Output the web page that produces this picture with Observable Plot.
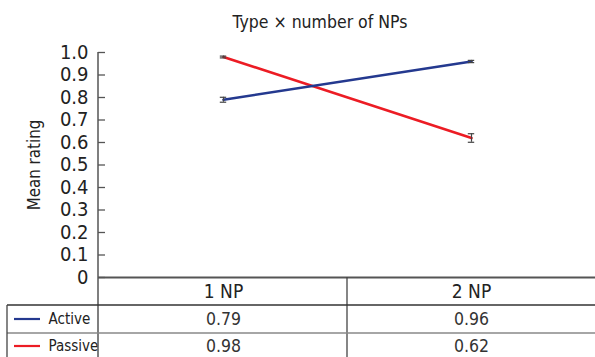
<!DOCTYPE html>
<html><head><meta charset="utf-8">
<script src="https://cdn.jsdelivr.net/npm/d3@7"></script>
<script src="https://cdn.jsdelivr.net/npm/@observablehq/plot@0.6"></script>
<style>body{margin:0;background:#fff}</style>
</head><body><div id="chart"></div>
<script>
const categories = ["1 NP", "2 NP"];
const series = ["Active", "Passive"];
const activeValues = [0.79, 0.96];
const passiveValues = [0.98, 0.62];
const activeErrors = [0.011, 0.005];
const passiveErrors = [0.004, 0.019];
const yTicks = [0, 0.1, 0.2, 0.3, 0.4, 0.5, 0.6, 0.7, 0.8, 0.9, 1.0];
const yTickLabels = ["0", "0.1", "0.2", "0.3", "0.4", "0.5", "0.6", "0.7", "0.8", "0.9", "1.0"];
const seriesColors = ["#24398f", "#ec1c24"];
const titleText = "Type × number of NPs";
const yLabel = "Mean rating";

const rows = [];
series.forEach((s, i) => {
  const vals = i === 0 ? activeValues : passiveValues;
  const errs = i === 0 ? activeErrors : passiveErrors;
  categories.forEach((c, j) => rows.push({series: s, np: c, value: vals[j], err: errs[j]}));
});
const bySeries = s => rows.filter(d => d.series === s);

const font = "'DejaVu Sans Condensed', 'Liberation Sans Narrow', 'Arial Narrow', sans-serif";
const W = 595, H = 357, mL = 98, mT = 52, mB = 80;
const rowH = 28;

const plot = Plot.plot({
  width: W, height: H,
  marginTop: mT, marginBottom: mB, marginLeft: mL, marginRight: 0,
  style: {fontFamily: font, background: "#fff", color: "#222"},
  x: {type: "band", domain: categories, padding: 0, axis: null},
  y: {domain: [0, 1], axis: null},
  color: {domain: series, range: seriesColors},
  marks: [
    Plot.axisY(yTicks, {anchor: "left", label: null, tickSize: 7, dx: 7, tickPadding: 10, fontSize: 20,
      stroke: "#555", fill: "#222", strokeWidth: 1.3,
      tickFormat: d => yTickLabels[yTicks.indexOf(d)]}),
    Plot.text([yLabel], {frameAnchor: "left", textAnchor: "middle", lineAnchor: "middle", dx: -64, rotate: -90, fontSize: 16.8, fill: "#222"}),
    Plot.text([titleText], {frameAnchor: "top", lineAnchor: "middle", dx: -27, dy: -30, fontSize: 17.5, fill: "#222"}),
    Plot.ruleY([0], {stroke: "#555", strokeWidth: 2}),
    Plot.line(bySeries("Passive"), {x: "np", y: "value", stroke: "series", strokeWidth: 2.6}),
    Plot.line(bySeries("Active"), {x: "np", y: "value", stroke: "series", strokeWidth: 2.6}),
    Plot.ruleX(rows, {x: "np", y1: d => d.value - d.err, y2: d => d.value + d.err, stroke: "#444", strokeWidth: 1.2}),
    Plot.tickY(rows, {x: "np", y: d => d.value + d.err, insetLeft: 120.8, insetRight: 120.8, stroke: "#444", strokeWidth: 1.2}),
    Plot.tickY(rows, {x: "np", y: d => d.value - d.err, insetLeft: 120.8, insetRight: 120.8, stroke: "#444", strokeWidth: 1.2}),
    Plot.text(categories, {x: d => d, frameAnchor: "bottom", lineAnchor: "middle", dy: 14, fontSize: 19, fill: "#222"}),
    Plot.text(bySeries("Active"), {x: "np", text: d => d.value.toFixed(2), frameAnchor: "bottom", lineAnchor: "middle", dy: 14 + rowH, fontSize: 17.5, fill: "#333"}),
    Plot.text(bySeries("Passive"), {x: "np", text: d => d.value.toFixed(2), frameAnchor: "bottom", lineAnchor: "middle", dy: 14 + rowH + 27, fontSize: 17.5, fill: "#333"}),
    Plot.text([series[0]], {frameAnchor: "bottom-left", lineAnchor: "middle", dx: -50, dy: 14 + rowH, textAnchor: "start", fontSize: 15, fill: "#222"}),
    Plot.text([series[1]], {frameAnchor: "bottom-left", lineAnchor: "middle", dx: -50, dy: 14 + rowH + 27, textAnchor: "start", fontSize: 15, fill: "#222"})
  ]
});

// Table grid and y-axis line, positioned from the plot's scales
const xs = plot.scale("x"), ys = plot.scale("y");
const svg = d3.select(plot);
const g = svg.append("g").attr("fill", "none");
const x0 = xs.range[0], x1 = xs.range[1];
const yTop = ys.apply(1), yBase = ys.apply(0);
g.append("line").attr("x1", x0).attr("x2", x0).attr("y1", yTop).attr("y2", H).attr("stroke", "#555").attr("stroke-width", 1.5);
const xMid = xs.apply(categories[1]);
g.append("line").attr("x1", xMid).attr("x2", xMid).attr("y1", yBase).attr("y2", H).attr("stroke", "#444").attr("stroke-width", 1.3);
g.append("line").attr("x1", 7).attr("x2", x1).attr("y1", yBase + rowH).attr("y2", yBase + rowH).attr("stroke", "#333").attr("stroke-width", 1.3);
g.append("line").attr("x1", 7).attr("x2", x1).attr("y1", yBase + 2 * rowH).attr("y2", yBase + 2 * rowH).attr("stroke", "#888").attr("stroke-width", 1.3);
g.append("line").attr("x1", 7).attr("x2", 7).attr("y1", yBase + rowH).attr("y2", H).attr("stroke", "#444").attr("stroke-width", 1.3);
series.forEach((s, i) => {
  const yy = yBase + 14 + rowH + i * 27;
  g.append("line").attr("x1", 14).attr("x2", 40).attr("y1", yy).attr("y2", yy).attr("stroke", seriesColors[i]).attr("stroke-width", 2.2);
});

document.getElementById("chart").append(plot);
</script>
</body></html>
